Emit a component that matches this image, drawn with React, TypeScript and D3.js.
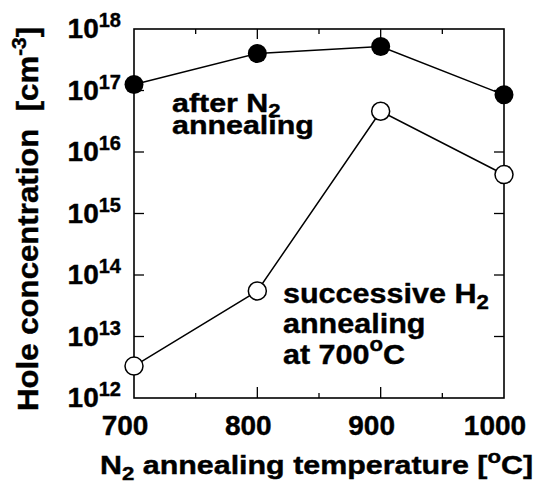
import React from 'react';
import * as d3 from 'd3';

const temps = [700, 800, 900, 1000];
const afterN2 = [1.25e17, 4.0e17, 5.2e17, 8.5e16];
const afterH2 = [3.3e12, 5.5e13, 4.6e16, 4.3e15];
const xTicks = [700, 800, 900, 1000];
const xMinor = [750, 850, 950];
const yExps = [12, 13, 14, 15, 16, 17, 18];

const W = 543;
const H = 484;
const left = 134, right = 504, top = 29, bottom = 398;
const font = '"Liberation Sans", Arial, Helvetica, sans-serif';

// wider, heavier lettering like the original figure
const Wide = ({x, y, s, rot = 0, children}: any) => (
  <g transform={`translate(${x},${y}) rotate(${rot}) scale(${s},1)`}>{children}</g>
);

export default function App() {
  const x = d3.scaleLinear().domain([700, 1000]).range([left, right]);
  const y = d3.scaleLog().domain([1e12, 1e18]).range([bottom, top]);

  const line = d3.line<number>()
    .x((d, i) => x(temps[i]))
    .y(d => y(d));

  return (
    <svg width={W} height={H} style={{position: 'absolute', left: 0, top: 0, background: 'white'}}
      fontFamily={font} fontWeight="bold" stroke="none">
      {/* frame */}
      <rect x={left} y={top} width={right - left} height={bottom - top} fill="none" stroke="black" strokeWidth={1.6} />

      {/* x ticks, inward on top and bottom */}
      {xTicks.slice(1, -1).map(t => (
        <g key={'xt' + t}>
          <line x1={x(t)} x2={x(t)} y1={bottom} y2={bottom - 11} stroke="black" strokeWidth={1.3} />
          <line x1={x(t)} x2={x(t)} y1={top} y2={top + 10} stroke="black" strokeWidth={1.3} />
        </g>
      ))}
      {xMinor.map(t => (
        <g key={'xm' + t}>
          <line x1={x(t)} x2={x(t)} y1={bottom} y2={bottom - 5} stroke="black" strokeWidth={1.3} />
          <line x1={x(t)} x2={x(t)} y1={top} y2={top + 5} stroke="black" strokeWidth={1.3} />
        </g>
      ))}

      {/* y ticks, inward on left and right */}
      {yExps.slice(1, -1).map(e => (
        <g key={'yt' + e}>
          <line x1={left} x2={left + 10} y1={y(Math.pow(10, e))} y2={y(Math.pow(10, e))} stroke="black" strokeWidth={1.3} />
          <line x1={right} x2={right - 10} y1={y(Math.pow(10, e))} y2={y(Math.pow(10, e))} stroke="black" strokeWidth={1.3} />
        </g>
      ))}

      {/* tick labels */}
      <g stroke="black" strokeWidth={0.4}>
        {xTicks.map(t => (
          <text key={'xl' + t} x={x(t) - 9} y={435} textAnchor="middle" fontSize={28}>{t}</text>
        ))}
        {yExps.map(e => (
          <text key={'yl' + e} x={121} y={y(Math.pow(10, e)) + 9} textAnchor="end" fontSize={28}>
            10<tspan fontSize={20} dy={-11}>{e}</tspan>
          </text>
        ))}
      </g>

      {/* series */}
      <path d={line(afterH2) || ''} fill="none" stroke="black" strokeWidth={1.5} />
      <path d={line(afterN2) || ''} fill="none" stroke="black" strokeWidth={1.5} />
      {afterH2.map((v, i) => (
        <circle key={'h' + i} cx={x(temps[i])} cy={y(v)} r={9} fill="white" stroke="black" strokeWidth={1.5} />
      ))}
      {afterN2.map((v, i) => (
        <circle key={'n' + i} cx={x(temps[i])} cy={y(v)} r={9.5} fill="black" />
      ))}

      <g stroke="black" strokeWidth={0.4}>
        {/* axis titles */}
        <Wide x={100} y={474} s={1.17}>
          <text fontSize={26}>
            N<tspan fontSize={19} dy={6}>2</tspan><tspan dy={-6}> annealing temperature [</tspan><tspan fontSize={19} dy={-11}>o</tspan><tspan dy={11}>C]</tspan>
          </text>
        </Wide>
        <Wide x={38} y={219} s={1.04} rot={-90}>
          <text textAnchor="middle" fontSize={30}>
            Hole concentration{'\u00a0\u00a0'}[cm<tspan fontSize={20} dy={-12}>-3</tspan><tspan dy={12}>]</tspan>
          </text>
        </Wide>

        {/* annotations */}
        <Wide x={172} y={112} s={1.17}>
          <text fontSize={26}>
            after N<tspan fontSize={19} dy={5}>2</tspan>
          </text>
        </Wide>
        <Wide x={172} y={134} s={1.17}>
          <text fontSize={26}>annealing</text>
        </Wide>

        <Wide x={283} y={303} s={1.11}>
          <text fontSize={27.5}>
            successive H<tspan fontSize={20} dy={6}>2</tspan>
          </text>
        </Wide>
        <Wide x={283} y={333} s={1.11}>
          <text fontSize={27.5}>annealing</text>
        </Wide>
        <Wide x={283} y={364} s={1.11}>
          <text fontSize={27.5}>
            at 700<tspan fontSize={20} dy={-13}>o</tspan><tspan dy={13}>C</tspan>
          </text>
        </Wide>
      </g>
    </svg>
  );
}
